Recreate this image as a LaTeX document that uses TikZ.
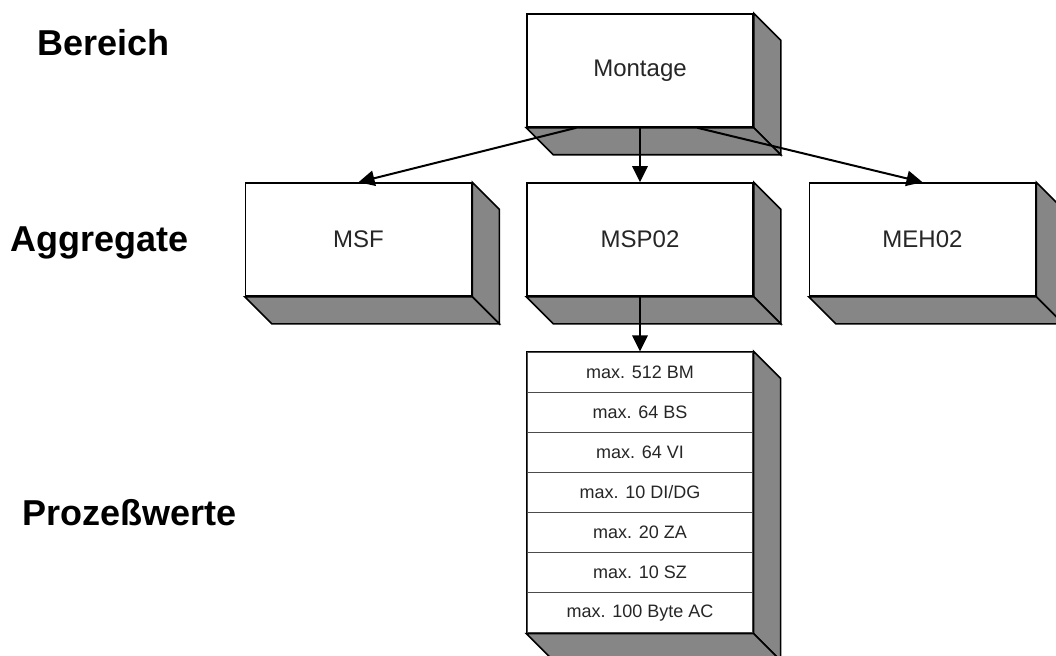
\documentclass[tikz,border=0pt]{standalone}
\usepackage{fontspec}
\setmainfont{Liberation Sans}
\usetikzlibrary{arrows.meta,calc}

% depth of the 3D extrusion, in picture units
\newcommand\depth{27}
% draw the shaded right and bottom faces of a block spanning nodes #1 (top) to #2 (bottom)
\newcommand\extrude[2]{%
  \draw[sideface] (#1.north east) -- ++(\depth,\depth)
    -- ($(#2.south east)+(\depth,\depth)$) -- (#2.south east) -- cycle;
  \draw[sideface] (#2.south west) -- (#2.south east)
    -- ++(\depth,\depth) -- ($(#2.south west)+(\depth,\depth)$) -- cycle;
}

\begin{document}
\begin{tikzpicture}[x=0.75pt,y=-0.75pt,
  face/.style={draw=black, line width=1.2pt, fill=white,
    minimum width=169.5pt, minimum height=84.75pt, inner sep=0pt,
    font=\fontsize{18}{20}\selectfont, text=black!85},
  cell/.style={draw=black!70, line width=0.9pt, fill=white,
    minimum width=169.5pt, minimum height=30.1pt, inner sep=0pt,
    font=\fontsize{13.5}{15}\selectfont, text=black!85},
  sideface/.style={fill=gray!95, draw=black, line width=1.2pt, line join=miter},
  link/.style={line width=1.5pt, -{Triangle[length=12pt,width=11.5pt]}},
  level/.style={font=\bfseries\fontsize{27}{30}\selectfont,
    anchor=base west, inner sep=0pt},
]
\useasboundingbox (0,0) rectangle (1056,656);
\clip (0,0) rectangle (1056,656);

% level captions
\node[level] (lbereich) at (37,56) {Bereich};
\node[level] (laggregate) at (10,251) {Aggregate};
\node[level] (lprozess) at (22,525) {Prozeßwerte};

% blocks
\node[face] (montage) at (640,70.5) {Montage};
\node[face] (msf) at (358.5,239.5) {MSF};
\node[face] (msp) at (640,239.5) {MSP02};
\node[face] (meh) at (922.5,239.5) {MEH02};

% stacked process values
\foreach \t [count=\i] in {max. 512 BM, max. 64 BS, max. 64 VI, max. 10 DI/DG,
    max. 20 ZA, max. 10 SZ, max. 100 Byte AC}
  \node[cell] (c\i) at (640,{352+40.14*(\i-0.5)}) {\t};
\draw[black, line width=1.2pt] (c1.north west) rectangle (c7.south east);

% extrusions
\extrude{montage}{montage}
\extrude{msf}{msf}
\extrude{msp}{msp}
\extrude{meh}{meh}
\extrude{c1}{c7}

% connectors
\draw[link] ($(montage.south west)!0.22!(montage.south east)$) -- (msf.north);
\draw[link] (montage.south) -- (msp.north);
\draw[link] ($(montage.south west)!0.752!(montage.south east)$) -- (meh.north);
\draw[link] (msp.south) -- (c1.north);
\end{tikzpicture}
\end{document}
